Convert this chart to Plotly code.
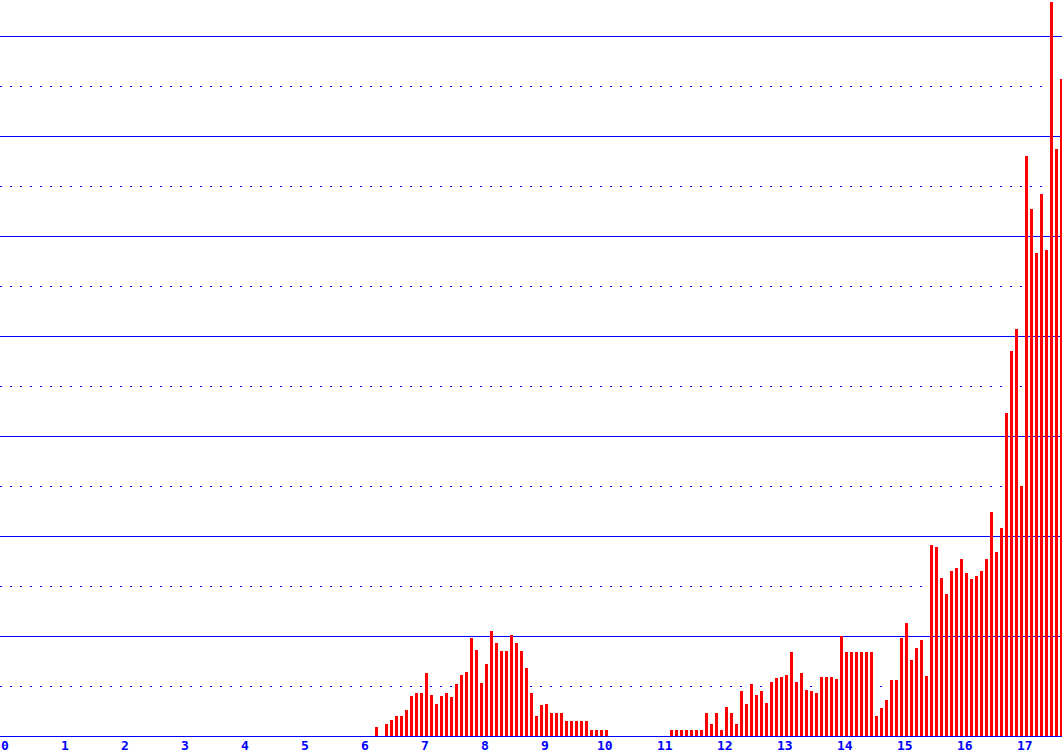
import plotly.graph_objects as go

# monthly values (one major grid step = 10)
start_year = 6
start_month = 2  # first bar is the third month of year 6

year6 = [0.9, 0, 1.2, 1.6, 2.0, 2.0, 2.6, 4.0, 4.3, 4.3]
year7 = [6.3, 4.1, 3.2, 4.0, 4.3, 3.9, 5.2, 6.1, 6.4, 9.8, 8.6, 5.3]
year8 = [7.2, 10.5, 9.3, 8.5, 8.5, 10.1, 9.3, 8.5, 6.8, 4.3, 2.0, 3.1]
year9 = [3.2, 2.3, 2.3, 2.3, 1.5, 1.5, 1.5, 1.5, 1.5, 0.6, 0.6, 0.6]
year10 = [0.6, 0, 0, 0, 0, 0, 0, 0, 0, 0, 0, 0]
year11 = [0, 0.6, 0.6, 0.6, 0.6, 0.6, 0.6, 0.6, 2.3, 1.2, 2.3, 0.6]
year12 = [2.9, 2.3, 1.2, 4.5, 3.2, 5.2, 4.1, 4.5, 3.3, 5.4, 5.8, 5.9]
year13 = [6.1, 8.4, 5.4, 6.3, 4.6, 4.5, 4.3, 5.9, 5.9, 5.9, 5.7, 10.0]
year14 = [8.4, 8.4, 8.4, 8.4, 8.4, 8.4, 2.0, 2.8, 3.6, 5.6, 5.6, 9.8]
year15 = [11.3, 7.6, 8.8, 9.6, 6.0, 19.1, 18.9, 15.8, 14.2, 16.5, 16.8, 17.7]
year16 = [16.3, 15.7, 16.0, 16.5, 17.7, 22.4, 18.4, 20.8, 32.3, 38.5, 40.7, 25.0]
year17 = [58.0, 52.7, 48.3, 54.2, 48.6, 73.4, 58.7, 65.7]

tick_years = list(range(18))
tick_labels = [str(i) for i in tick_years]

values = year6 + year7 + year8 + year9 + year10 + year11 + year12 + year13 + year14 + year15 + year16 + year17
x_vals = [start_year + (start_month + i) / 12 for i in range(len(values))]

fig = go.Figure(go.Bar(x=x_vals, y=values, width=0.05,
                       marker=dict(color="#ff0000", line=dict(width=0))))

# year labels sit just under the baseline
for yr, lab in zip(tick_years, tick_labels):
    fig.add_annotation(x=yr, y=0, xref="x", yref="paper", text=lab, showarrow=False,
                       xanchor="center", yanchor="middle", yshift=-9, xshift=-1,
                       font=dict(family="DejaVu Sans Mono", size=13, color="#0000ff", weight="bold"))

fig.update_layout(
    width=1062, height=756,
    margin=dict(l=0, r=0, t=0, b=20, pad=0),
    paper_bgcolor="white", plot_bgcolor="white",
    showlegend=False,
    bargap=0,
)
fig.update_xaxes(range=[-0.1, 17.6], showticklabels=False,
                 showgrid=False, zeroline=False, showline=True, linecolor="#0000ff", linewidth=1,
                 ticks="")
fig.update_yaxes(range=[0, 73.6], dtick=10, tick0=0, showticklabels=False, zeroline=False,
                 showgrid=True, gridcolor="#0000ff", gridwidth=1,
                 minor=dict(dtick=5, tick0=0, showgrid=True, gridcolor="#0000ff", gridwidth=1, griddash="2px,8px"))

# the page body has a default 8px margin; drop it so the chart sits at the corner
fig.write_html("out.html", config={"displayModeBar": False},
               post_script="document.body.style.margin='0';")
